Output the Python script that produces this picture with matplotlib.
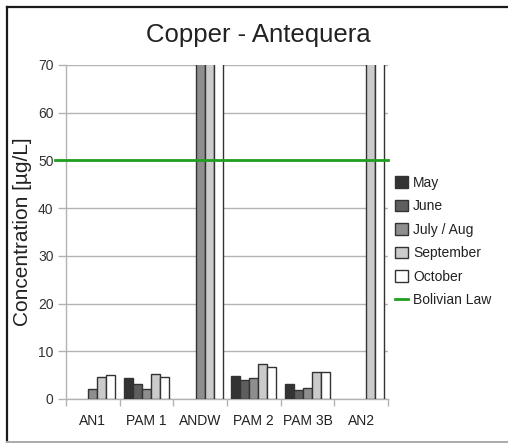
import numpy as np
import matplotlib
matplotlib.use("Agg")
import matplotlib.pyplot as plt
from matplotlib.lines import Line2D

plt.rcParams['font.family'] = ['Liberation Sans', 'DejaVu Sans']

# Sampling sites and monthly copper concentrations (µg/L); None = not sampled
sites = ["AN1", "PAM 1", "ANDW", "PAM 2", "PAM 3B", "AN2"]
months = ["May", "June", "July / Aug", "September", "October"]
may = [None, 4.4, None, 4.9, 3.2, None]
june = [None, 3.2, None, 4.0, 1.9, None]
july_aug = [2.1, 2.1, 80.0, 4.4, 2.3, None]
september = [4.6, 5.3, 80.0, 7.4, 5.6, 80.0]
october = [5.1, 4.6, 80.0, 6.7, 5.6, 80.0]
bolivian_law = 50
y_ticks = [0, 10, 20, 30, 40, 50, 60, 70]

series = [may, june, july_aug, september, october]
fills = ["#333333", "#5e5e5e", "#8e8e8e", "#cbcbcb", "#ffffff"]

W, H = 508, 443
fig = plt.figure(figsize=(W / 100, H / 100), dpi=100)
ax = fig.add_axes([66 / W, 44 / H, 322 / W, 334 / H])

grid_col = "#b3b3b3"
width = 0.168
x = np.arange(len(sites))
for i, (vals, col, name) in enumerate(zip(series, fills, months)):
    xs = [xi + (i - 2) * width for xi, v in zip(x, vals) if v is not None]
    hs = [v for v in vals if v is not None]
    ax.bar(xs, hs, width=width, color=col, edgecolor="#333333",
           linewidth=1.0, label=name, zorder=3)

ax.axhline(bolivian_law, xmin=-0.035, xmax=1, color="#1f9f1f", lw=2.0,
           clip_on=False, zorder=4, label="Bolivian Law")

ax.set_xlim(-0.5, len(sites) - 0.5)
ax.set_ylim(0, 70)
ax.set_yticks(y_ticks)
ax.yaxis.grid(True, color=grid_col, lw=1.0, zorder=0)
ax.set_axisbelow(True)

ax.set_xticks(np.arange(-0.5, len(sites)), labels=[""] * (len(sites) + 1))
ax.set_xticks(x, labels=sites, minor=True)
ax.tick_params(axis="x", which="major", length=5, width=1, color=grid_col)
ax.tick_params(axis="x", which="minor", length=0, pad=11, labelsize=10,
               labelcolor="#222222")
ax.tick_params(axis="y", length=6, width=1, color=grid_col, pad=3,
               labelsize=10, labelcolor="#333333")

for side in ("top", "right"):
    ax.spines[side].set_visible(False)
for side in ("left", "bottom"):
    ax.spines[side].set_color(grid_col)
    ax.spines[side].set_linewidth(1.0)

ax.set_ylabel("Concentration [µg/L]", fontsize=15, color="#222222", labelpad=4)
fig.text(258 / W, 1 - 35 / H, "Copper - Antequera", ha="center", va="center",
         fontsize=18.5, color="#222222")

handles, labels = ax.get_legend_handles_labels()
order = [labels.index(m) for m in months] + [labels.index("Bolivian Law")]
leg = ax.legend([handles[k] for k in order], [labels[k] for k in order],
                loc="upper left", bbox_to_anchor=(395 / W, 1 - 176 / H),
                bbox_transform=fig.transFigure, frameon=False, fontsize=10,
                handlelength=0.9, handleheight=0.9, handletextpad=0.4,
                labelspacing=0.68, borderpad=0, borderaxespad=0)
for t in leg.get_texts():
    t.set_color("#222222")

# outer frame of the chart
fig.add_artist(Line2D([7 / W, 7 / W], [1 - 7 / H, 1 / H], transform=fig.transFigure,
                      color="#1a1a1a", lw=1.6))
fig.add_artist(Line2D([7 / W, 1], [1 - 7 / H, 1 - 7 / H], transform=fig.transFigure,
                      color="#1a1a1a", lw=1.6))
fig.add_artist(Line2D([7 / W, 1], [1.2 / H, 1.2 / H], transform=fig.transFigure,
                      color="#aaaaaa", lw=1.4))

fig.savefig("out.png", dpi=100)
